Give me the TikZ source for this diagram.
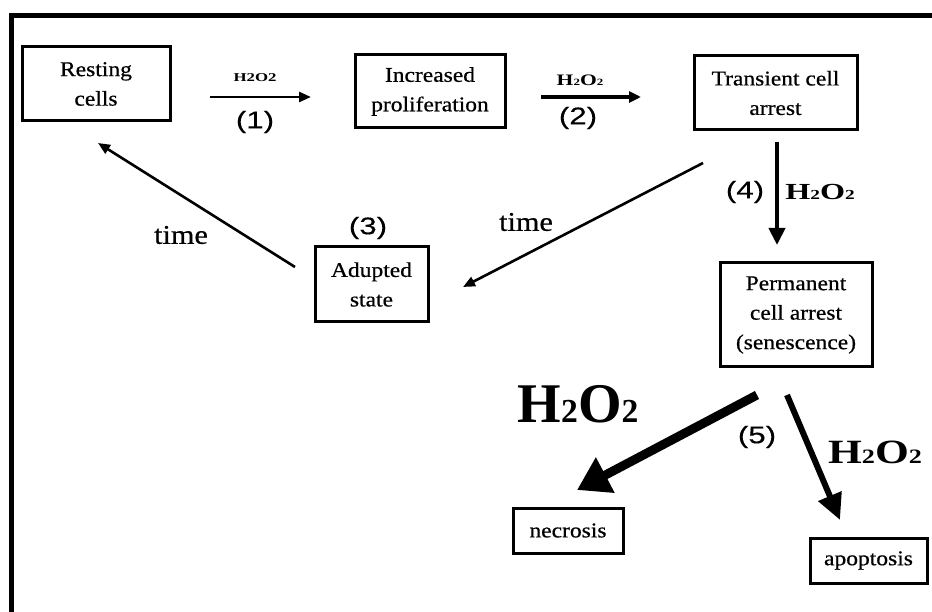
\documentclass[tikz,border=0pt]{standalone}
\usepackage{fontspec}
\setmainfont{Liberation Serif}
\newfontfamily\boxfont{Liberation Serif}[FakeStretch=1.12,FakeBold=0.6]
\newfontfamily\numfont{Liberation Sans}[FakeStretch=1.3,FakeBold=0.4]
\usetikzlibrary{arrows.meta}
\newcommand\hto[2]{\scalebox{#2}[1]{\fontsize{#1}{#1}\selectfont\bfseries H\scalebox{0.6}{2}O\scalebox{0.6}{2}}}
\tikzset{
  box/.style={draw, line width=3pt, inner sep=0pt, align=center,
    font=\boxfont\fontsize{21}{29.5}\selectfont},
  num/.style={inner sep=0pt, font=\numfont\fontsize{24}{24}\selectfont},
  timelbl/.style={inner sep=0pt, font=\boxfont\fontsize{27}{27}\selectfont},
  lbl/.style={inner sep=0pt},
  thinarr/.style={line width=2.6pt, -{Triangle[length=12pt,width=10pt]}},
}
\begin{document}
\begin{tikzpicture}[x=1pt,y=-1pt]
\useasboundingbox (0,0) rectangle (932,612);
% frame
\draw[line width=5.5pt, line join=miter] (11.5,613) -- (11.5,15.5) -- (933,15.5);

% boxes
\node[box, minimum width=148pt, minimum height=74pt] (rest) at (96,84) {Resting\\cells};
\node[box, minimum width=150pt, minimum height=73pt] (incr) at (430,91.5) {Increased\\proliferation};
\node[box, minimum width=163pt, minimum height=74pt] (trans) at (775.5,93) {Transient cell\\arrest};
\node[box, minimum width=113pt, minimum height=75pt] (adup) at (371.5,284.5) {Adupted\\state};
\node[box, minimum width=152pt, minimum height=104pt] (perm) at (796,315) {Permanent\\cell arrest\\(senescence)};
\node[box, minimum width=110pt, minimum height=45pt] (necr) at (568,530.5) {necrosis};
\node[box, minimum width=117pt, minimum height=45pt] (apop) at (868.5,560.5) {apoptosis};

% arrow end points
\coordinate (a1s) at (210,97);  \coordinate (a1e) at (311,97);
\coordinate (a2s) at (541,97);  \coordinate (a2e) at (641,97);
\coordinate (a4s) at (777,142); \coordinate (a4e) at (777,245);
\coordinate (tls) at (295,267); \coordinate (tle) at (98,143);
\coordinate (trs) at (703,163); \coordinate (tre) at (463,287);
\coordinate (nes) at (757,395); \coordinate (nee) at (577,490);
\coordinate (aps) at (787,395); \coordinate (ape) at (840,520);

% arrows
\draw[thinarr] (a1s) -- (a1e);
\draw[line width=4pt, -{Triangle[length=12pt,width=11pt]}] (a2s) -- (a2e);
\draw[line width=4pt, -{Triangle[length=17pt,width=16pt]}] (a4s) -- (a4e);
\draw[thinarr] (tls) -- (tle);
\draw[thinarr] (trs) -- (tre);
\draw[line width=9pt, -{Triangle[length=32pt,width=38pt]}] (nes) -- (nee);
\draw[line width=6pt, -{Triangle[length=26pt,width=24pt]}] (aps) -- (ape);

% labels
\node[lbl] (h1) at (255,78) {\scalebox{1.4}[1]{\fontsize{12}{12}\selectfont\bfseries H2O2}};
\node[num] (n1) at (255,122) {(1)};
\node[lbl] (h2) at (580,80) {\hto{16}{1.35}};
\node[num] (n2) at (578,118) {(2)};
\node[num] (n4) at (745,192) {(4)};
\node[lbl] (h4) at (820,192) {\hto{23}{1.4}};
\node[num] (n3) at (368,228) {(3)};
\node[timelbl] (t1) at (181,235) {time};
\node[timelbl] (t2) at (526,222) {time};
\node[lbl] (h5) at (578,404) {\hto{56}{1.0}};
\node[num] (n5) at (757,437) {(5)};
\node[lbl] (h6) at (875,452) {\hto{34}{1.28}};
\end{tikzpicture}
\end{document}
